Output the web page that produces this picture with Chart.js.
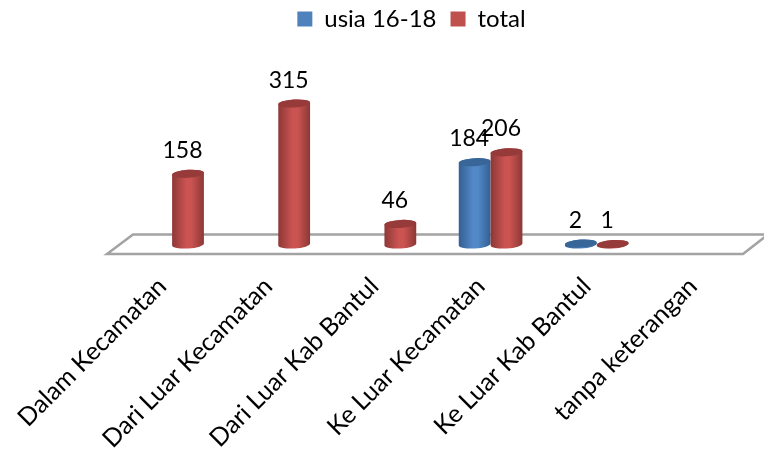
<!DOCTYPE html>
<html>
<head>
    <title>Usia 16-18</title>
    <script src="https://cdn.jsdelivr.net/npm/chart.js"></script>
    <style>
        html, body { margin: 0; background: #fff; }
        canvas { display: block; }
    </style>
</head>
<body>
    <canvas id="chart" width="764" height="453"></canvas>
    <script>
        var categories = ['Dalam Kecamatan', 'Dari Luar Kecamatan', 'Dari Luar Kab Bantul', 'Ke Luar Kecamatan', 'Ke Luar Kab Bantul', 'tanpa keterangan'];
        var usia = [null, null, null, 184, 2, null];
        var total = [158, 315, 46, 206, 1, null];

        var fontName = 'Lato, "Open Sans", sans-serif';

        // colours for the round bars: edge, middle, lid
        var shades = [
            { edge: '#335f92', mid: '#5389c8', lid: '#386698' },
            { edge: '#8c3836', mid: '#cb5452', lid: '#963b39' }
        ];

        function drawCylinder(ctx, bar, shade, base) {
            var rx = bar.width / 2, ry = 4, tilt = -0.06;
            var grad = ctx.createLinearGradient(bar.x - rx, 0, bar.x + rx, 0);
            grad.addColorStop(0, shade.edge);
            grad.addColorStop(0.45, shade.mid);
            grad.addColorStop(0.6, shade.mid);
            grad.addColorStop(1, shade.edge);
            ctx.fillStyle = grad;
            ctx.beginPath();
            ctx.ellipse(bar.x, base, rx, ry, tilt, 0, Math.PI);
            ctx.ellipse(bar.x, bar.y, rx, ry, tilt, Math.PI, 2 * Math.PI);
            ctx.closePath();
            ctx.fill();
            ctx.fillStyle = shade.lid;
            ctx.beginPath();
            ctx.ellipse(bar.x, bar.y, rx, ry, tilt, 0, 2 * Math.PI);
            ctx.fill();
        }

        var floorAndBars = {
            id: 'floorAndBars',
            afterLayout: function(chart) {
                // legend sits left of the plot centre and close to the top
                chart.legend.left -= 26;
                chart.legend.right -= 26;
                chart.legend.top -= 7;
                chart.legend.bottom -= 7;
            },
            beforeDatasetsDraw: function(chart) {
                var ctx = chart.ctx, area = chart.chartArea;
                var base = chart.scales.y.getPixelForValue(0);

                ctx.save();
                ctx.strokeStyle = '#a3a3a3';
                ctx.lineWidth = 2.5;
                ctx.beginPath();
                ctx.moveTo(area.left - 12, base + 9.5);
                ctx.lineTo(area.right - 13, base + 9.5);
                ctx.lineTo(area.right + 12, base - 10);
                ctx.lineTo(area.left + 14, base - 10);
                ctx.closePath();
                ctx.stroke();

                chart.data.datasets.forEach(function(ds, i) {
                    chart.getDatasetMeta(i).data.forEach(function(bar, j) {
                        if (ds.data[j] !== null) drawCylinder(ctx, bar, shades[i], base);
                    });
                });

                ctx.fillStyle = '#000';
                ctx.font = '23px ' + fontName;
                ctx.textAlign = 'center';
                ctx.textBaseline = 'alphabetic';
                chart.data.datasets.forEach(function(ds, i) {
                    chart.getDatasetMeta(i).data.forEach(function(bar, j) {
                        if (ds.data[j] !== null) ctx.fillText(ds.data[j], bar.x - 5.5, bar.y - 16);
                    });
                });
                ctx.restore();
                return false;
            }
        };

        new Chart(document.getElementById('chart'), {
            type: 'bar',
            data: {
                labels: categories,
                datasets: [
                    { label: 'usia 16-18', data: usia, backgroundColor: '#4f81bd' },
                    { label: 'total', data: total, backgroundColor: '#c0504d' }
                ]
            },
            options: {
                responsive: false,
                animation: false,
                devicePixelRatio: 1,
                categoryPercentage: 0.6,
                barPercentage: 1,
                layout: { padding: { left: 119, right: 8, top: 0, bottom: 0 } },
                plugins: {
                    legend: {
                        position: 'top',
                        labels: {
                            boxWidth: 15,
                            boxHeight: 15,
                            padding: 14,
                            color: '#000',
                            font: { family: fontName, size: 24 }
                        }
                    },
                    tooltip: { enabled: false }
                },
                scales: {
                    x: {
                        grid: { display: false },
                        border: { display: false },
                        ticks: {
                            color: '#000',
                            font: { family: fontName, size: 25 },
                            minRotation: 45,
                            maxRotation: 45,
                            padding: 19,
                            labelOffset: -10,
                            autoSkip: false
                        },
                        afterFit: function(scale) {
                            scale.height = 208.5;
                            scale.paddingLeft = 0;
                            scale.paddingRight = 0;
                        }
                    },
                    y: {
                        display: false,
                        min: 0,
                        max: 439
                    }
                }
            },
            plugins: [floorAndBars]
        });
    </script>
</body>
</html>
